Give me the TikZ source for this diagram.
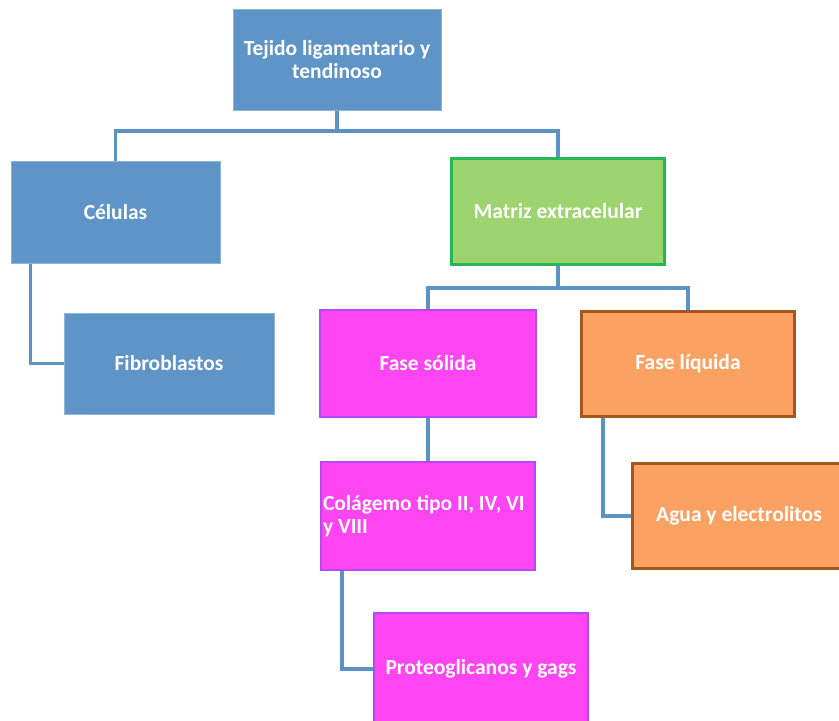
\documentclass[tikz,border=0pt]{standalone}
\usepackage{fontspec}
\setmainfont{Carlito}
\definecolor{bluebox}{HTML}{5E95C6}
\definecolor{greenfill}{HTML}{9ED46F}
\definecolor{greenline}{HTML}{22B856}
\definecolor{magfill}{HTML}{FF44F2}
\definecolor{magline}{HTML}{B448F2}
\definecolor{orfill}{HTML}{FBA263}
\definecolor{orline}{HTML}{A4561F}
\definecolor{linkc}{HTML}{5B93C2}
\tikzset{
  box/.style={rectangle, inner sep=2pt, text=white, font=\fontsize{21.5}{23}\selectfont\bfseries, align=center},
  bluebx/.style={box, fill=bluebox, draw=bluebox!70!white, line width=1pt},
  greenbx/.style={box, fill=greenfill, draw=greenline, line width=3pt},
  magbx/.style={box, fill=magfill, draw=magline, line width=2pt},
  orbx/.style={box, fill=orfill, draw=orline, line width=3pt},
  link/.style={draw=linkc, line width=3.5pt},
}
\begin{document}
\begin{tikzpicture}[x=1pt,y=-1pt]
\useasboundingbox (0,0) rectangle (839,721);
\node[bluebx, minimum width=208pt, minimum height=101pt] (top) at (337,59.5) {Tejido ligamentario y\\tendinoso};
\node[bluebx, minimum width=209pt, minimum height=102pt] (cel) at (115.5,212) {Células};
\node[bluebx, minimum width=210pt, minimum height=101pt] (fib) at (169,363.5) {Fibroblastos};
\node[greenbx, minimum width=213pt, minimum height=106pt] (mat) at (558,211.5) {Matriz extracelular};
\node[magbx, minimum width=216pt, minimum height=107pt] (sol) at (428,363.5) {Fase sólida};
\node[orbx, minimum width=213pt, minimum height=105pt] (liq) at (688,364) {Fase líquida};
\node[magbx, minimum width=214pt, minimum height=108pt, align=flush left, text width=210pt] (col) at (428,516) {Colágemo tipo II, IV, VI\\y VIII};
\node[orbx, minimum width=213pt, minimum height=105pt] (agua) at (739,516) {Agua y electrolitos};
\node[magbx, minimum width=214pt, minimum height=112pt] (prot) at (481,669) {Proteoglicanos y gags};
\coordinate (j1) at (337,131);
\coordinate (j2) at (558,288);
\draw[link] (top.south) -- (j1);
\draw[link] (j1) -| (cel.north);
\draw[link] (j1) -| (mat.north);
\draw[link] (mat.south) -- (j2);
\draw[link] (j2) -| (sol.north);
\draw[link] (j2) -| (liq.north);
\draw[link] (sol.south) -- (col.north);
\draw[link] ([xshift=-85pt]cel.south) |- (fib.west);
\draw[link] ([xshift=-85pt]liq.south) |- (agua.west);
\draw[link] ([xshift=-86pt]col.south) |- (prot.west);
\end{tikzpicture}
\end{document}
